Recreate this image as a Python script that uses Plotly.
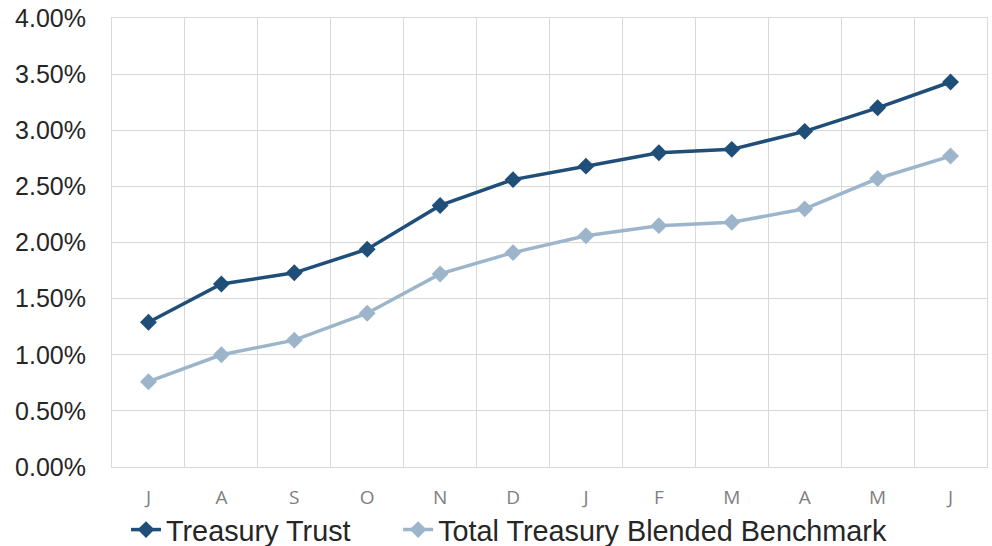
import plotly.graph_objects as go

months = ["J", "A", "S", "O", "N", "D", "J", "F", "M", "A", "M", "J"]
treasury_trust = [1.29, 1.63, 1.73, 1.94, 2.33, 2.56, 2.68, 2.80, 2.83, 2.99, 3.20, 3.43]
benchmark = [0.76, 1.00, 1.13, 1.37, 1.72, 1.91, 2.06, 2.15, 2.18, 2.30, 2.57, 2.77]
y_ticks = [0, 0.5, 1.0, 1.5, 2.0, 2.5, 3.0, 3.5, 4.0]

x = list(range(len(months)))
grid = "#d9d9d9"

fig = go.Figure()
fig.add_trace(go.Scatter(
    x=x, y=treasury_trust, name="Treasury Trust", mode="lines+markers",
    line=dict(color="#1F4E79", width=3.5),
    marker=dict(symbol="diamond", size=13, color="#1F4E79"),
    legend="legend",
))
fig.add_trace(go.Scatter(
    x=x, y=benchmark, name="Total Treasury Blended Benchmark", mode="lines+markers",
    line=dict(color="#9DB5CB", width=3.5),
    marker=dict(symbol="diamond", size=13, color="#9DB5CB"),
    legend="legend2",
))

legend_common = dict(
    orientation="h", xanchor="left", y=-0.14, yanchor="middle",
    font=dict(size=28.8, color="#262626"),
    itemwidth=30, bgcolor="rgba(0,0,0,0)",
)

fig.update_layout(
    width=992, height=546,
    margin=dict(l=112, r=5, t=18, b=79, autoexpand=False),
    paper_bgcolor="white", plot_bgcolor="white",
    font=dict(family="Liberation Sans, Arial, sans-serif", color="#262626"),
    showlegend=True,
    legend=dict(x=0.016, **legend_common),
    legend2=dict(x=0.327, **legend_common),
    xaxis=dict(
        range=[-0.5, len(months) - 0.5],
        tickmode="array", tickvals=x, ticktext=months,
        showgrid=False, zeroline=False,
        showline=True, mirror=True, linecolor=grid, linewidth=1,
        ticks="", ticklabelstandoff=13, automargin=False,
        tickfont=dict(size=19, color="#808080", family="Open Sans, Liberation Sans, sans-serif"),
        minor=dict(tickmode="array", tickvals=[i - 0.5 for i in range(len(months) + 1)],
                   showgrid=True, gridcolor=grid, gridwidth=1, ticks=""),
        fixedrange=True,
    ),
    yaxis=dict(
        range=[0, 4.0],
        tickmode="array", tickvals=y_ticks,
        ticktext=[f"{v:.2f}%" for v in y_ticks],
        showgrid=True, gridcolor=grid, gridwidth=1,
        zeroline=False, showline=True, mirror=True, linecolor=grid, linewidth=1,
        ticks="", automargin=False, ticklabeloverflow="allow",
        ticklabelstandoff=20,
        tickfont=dict(size=25, color="#262626"),
        fixedrange=True,
    ),
)

fig.write_html(
    "out.html",
    config={"displayModeBar": False},
    post_script="document.body.style.margin='0px';",
)
